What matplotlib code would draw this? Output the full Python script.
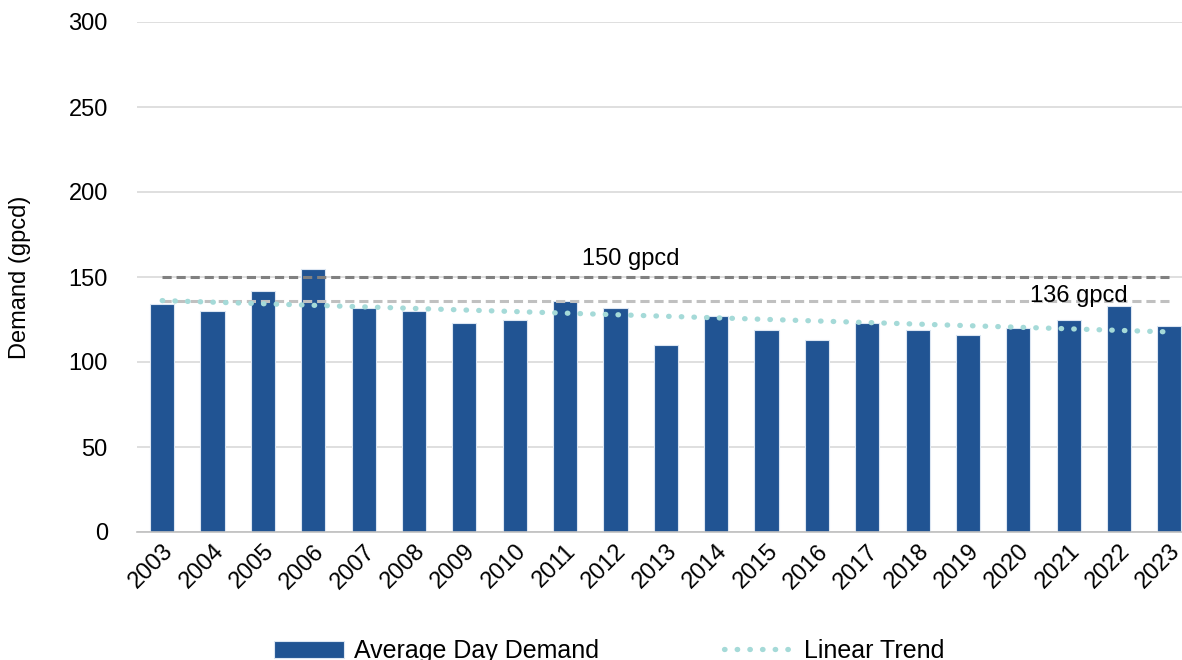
import numpy as np
import matplotlib.pyplot as plt

plt.rcParams['font.family'] = ['Liberation Sans', 'DejaVu Sans']

years = [str(y) for y in range(2003, 2024)]
demand = [134, 130, 142, 155, 132, 130, 123, 125, 136, 132, 110,
          127, 119, 113, 123, 119, 116, 120, 125, 133, 121]
ref_levels = [150, 136]
ref_labels = ['150 gpcd', '136 gpcd']
ref_colors = ['#808080', '#c0c0c0']

x = np.arange(len(years))
# least squares trend through the yearly values
slope, intercept = np.polyfit(x, demand, 1)
trend = slope * x + intercept

fig = plt.figure(figsize=(11.82, 6.6), dpi=100)
ax = fig.add_axes([137 / 1182, 128 / 660, 1 - 137 / 1182, 510 / 660])

bars = ax.bar(x, demand, width=0.48, color='#215493', edgecolor='#dce6f2',
              linewidth=0.8, label='Average Day Demand', zorder=2)

for lvl, col in zip(ref_levels, ref_colors):
    ax.plot([x[0], x[-1]], [lvl, lvl], color=col, linestyle=(0, (3, 1.6)),
            linewidth=2.2, zorder=3)
ax.text(9.3, ref_levels[0] + 4, ref_labels[0], ha='center', va='bottom',
        fontsize=17)
ax.text(18.2, ref_levels[1] - 3.5, ref_labels[1], ha='center', va='bottom',
        fontsize=17)

tline, = ax.plot(x, trend, color='#a5dad8', linestyle=(0, (0.1, 2.3)),
                 dash_capstyle='round', linewidth=3.8, label='Linear Trend',
                 zorder=4)

ax.set_ylim(0, 300)
ax.set_yticks(range(0, 301, 50))
ax.set_xlim(-0.5, 20.25)
ax.set_xticks(x)
ax.set_xticklabels(years, rotation=45, ha='right', rotation_mode='anchor')
ax.tick_params(axis='both', length=0, labelsize=17)
ax.tick_params(axis='y', pad=21)
ax.tick_params(axis='x', pad=6)
ax.grid(axis='y', color='#d9d9d9', linewidth=1.2, zorder=0)
ax.set_axisbelow(True)
for s in ['top', 'right', 'left']:
    ax.spines[s].set_visible(False)
ax.spines['bottom'].set_color('#bfbfbf')
ax.spines['bottom'].set_linewidth(1.2)

fig.text(20 / 1182, 1 - 277 / 660, 'Demand (gpcd)', rotation=90,
         ha='center', va='center', fontsize=17)

fig.legend(handles=[bars, tline], loc='center', bbox_to_anchor=(0.515, 9 / 660),
           ncol=2, frameon=False, fontsize=18, handlelength=2.8,
           columnspacing=5.0, handletextpad=0.4)

fig.savefig('out.png', dpi=100)
